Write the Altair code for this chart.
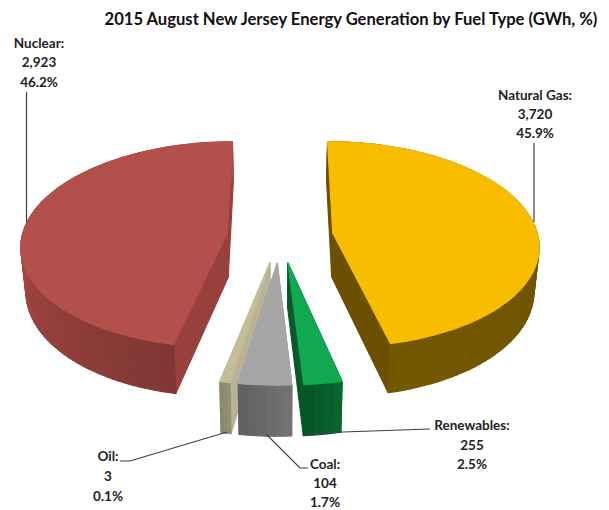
import math
import altair as alt
import pandas as pd

# Values printed on the chart
fuels = ["Natural Gas", "Renewables", "Coal", "Oil", "Nuclear"]
gwh = ["3,720", "255", "104", "3", "2,923"]
pct = ["45.9%", "2.5%", "1.7%", "0.1%", "46.2%"]
# Share of the circle each slice visibly takes in the picture
drawn_share = [46.4, 2.6, 3.6, 0.7, 46.7]

top_colors = ["#F9BD00", "#10A850", "#A6A6A6", "#C4BD97", "#B3504C"]
side_colors = ["#6B5000", "#07592A", "#8A8A8A", "#B8B296", "#98403D"]
wall_from = [(0x6B, 0x50, 0x00), (0x08, 0x66, 0x2E), (0x72, 0x72, 0x72), (0x94, 0x91, 0x76), (0x7E, 0x38, 0x35)]
wall_to = [(0x74, 0x58, 0x00), (0x06, 0x55, 0x28), (0x62, 0x62, 0x62), (0x8C, 0x89, 0x6C), (0xAE, 0x48, 0x44)]

# Projection of the tilted pie
CX, CY, RX, RY, PERSP, EXPLODE, DEPTH = 280.0, 236.0, 205.0, 102.0, 0.11, 0.26, 44.0


def project(px, py, low=False):
    s = 1 / (1 + PERSP * py)
    x = CX + RX * px * s
    y = CY - RY * py * s
    if low:
        x = CX + (x - CX) * 0.98
        y += DEPTH * s
    return x, y


rows = []
pid = 0


def add_poly(points, color):
    global pid
    pid += 1
    for i, (x, y) in enumerate(points):
        rows.append({"x": x, "y": y, "part": pid, "i": i, "c": color})


def hexa(rgb):
    return "#%02X%02X%02X" % tuple(int(round(v)) for v in rgb)


total = sum(drawn_share)
starts = []
acc = 0.0
for s in drawn_share:
    starts.append(acc)
    acc += 360 * s / total

draw_order = [4, 0, 3, 2, 1]
for k in draw_order:
    a0 = starts[k]
    a1 = a0 + 360 * drawn_share[k] / total
    mid = math.radians((a0 + a1) / 2)
    ox, oy = EXPLODE * math.sin(mid), EXPLODE * math.cos(mid)
    n = max(4, int((a1 - a0) / 2))
    angs = [math.radians(a0 + (a1 - a0) * j / n) for j in range(n + 1)]
    rim = [(ox + math.sin(t), oy + math.cos(t)) for t in angs]
    # inner walls
    for edge in (rim[0], rim[-1]):
        add_poly([project(ox, oy), project(*edge), project(*edge, low=True), project(ox, oy, low=True)], side_colors[k])
    # outer wall, in narrow strips for the shading
    for j in range(n):
        p, q = rim[j], rim[j + 1]
        f = j / max(1, n - 1)
        if k == 4:
            # nuclear: dark near the front corner, lighter to the left
            f = min(1, max(0, (j / (n - 1)) * 1.9))
        rgb = [u + (v - u) * f for u, v in zip(wall_from[k], wall_to[k])]
        add_poly([project(*p), project(*q), project(*q, low=True), project(*p, low=True)], hexa(rgb))
    add_poly([project(ox, oy)] + [project(*p) for p in rim], top_colors[k])

df = pd.DataFrame(rows)

# Chart furniture: label layout
label_x = [535, 472, 325, 108, 39]
label_y = [[96, 115, 134], [426, 446, 465], [465, 484, 503], [457, 477, 497], [44, 63, 83]]
texts = []
for k, f in enumerate(fuels):
    for line, yy in zip([f + ":", gwh[k], pct[k]], label_y[k]):
        texts.append({"x": label_x[k], "y": yy, "t": line})
text_df = pd.DataFrame(texts)

leaders = {
    "Natural Gas": [(534, 143), (534, 222)],
    "Nuclear": [(26.5, 92), (26.5, 222)],
    "Renewables": [(430, 429), (343, 432), (307, 434)],
    "Coal": [(266, 434), (300, 468), (308, 468)],
    "Oil": [(227, 432), (130, 461), (120, 461)],
}
lead_df = pd.DataFrame(
    [{"x": x, "y": y, "k": k, "i": i} for k, pts in leaders.items() for i, (x, y) in enumerate(pts)]
)

xs = alt.Scale(domain=[8, 601], nice=False, zero=False)
ys = alt.Scale(domain=[502, 8], nice=False, zero=False)
X = alt.X("x:Q", scale=xs, axis=None)
Y = alt.Y("y:Q", scale=ys, axis=None)

faces = alt.Chart(df).mark_line(interpolate="linear-closed", strokeWidth=1.2, strokeJoin="round").encode(
    x=X, y=Y, detail="part:N", order="i:Q",
    fill=alt.Fill("c:N", scale=None, legend=None),
    stroke=alt.Stroke("c:N", scale=None, legend=None),
)
lines = alt.Chart(lead_df).mark_line(color="#404040", strokeWidth=1.2).encode(
    x=X, y=Y, detail="k:N", order="i:Q"
)
labels = alt.Chart(text_df).mark_text(
    font="Lato", fontSize=13.5, fontWeight="bold", color="#222222", align="center", baseline="middle"
).encode(x=X, y=Y, text="t:N")
title_df = pd.DataFrame({"x": [351], "y": [20], "t": ["2015 August New Jersey Energy Generation by Fuel Type (GWh, %)"]})
title = alt.Chart(title_df).mark_text(
    font="Lato", fontSize=16.6, fontWeight="bold", color="#111111", align="center", baseline="middle"
).encode(x=X, y=Y, text="t:N")

chart = alt.layer(faces, lines, labels, title).properties(
    width=593, height=494, padding=0
).configure_view(stroke=None)

chart.save("out.html", embed_options={"renderer": "svg", "actions": False})
